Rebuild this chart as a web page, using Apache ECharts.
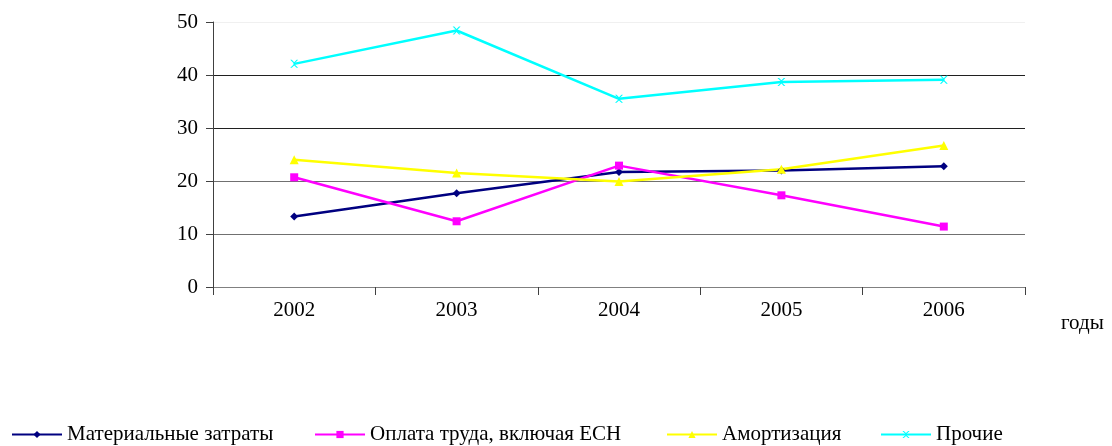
<!DOCTYPE html>
<html>
<head>
<meta charset="utf-8">
<script src="https://cdn.jsdelivr.net/npm/echarts@6/dist/echarts.min.js"></script>
<style>
  html, body { margin: 0; padding: 0; background: #fff; }
  #chart { width: 1112px; height: 446px; }
</style>
</head>
<body>
<div id="chart"></div>
<script>
const years = ['2002', '2003', '2004', '2005', '2006']
const material = [13.3, 17.7, 21.7, 22.0, 22.8]
const labour = [20.7, 12.4, 22.9, 17.3, 11.4]
const amort = [24.0, 21.5, 19.9, 22.2, 26.7]
const other = [42.1, 48.4, 35.5, 38.7, 39.1]

const names = ['Материальные затраты', 'Оплата труда, включая ЕСН', 'Амортизация', 'Прочие']
const colors = ['#000080', '#ff00ff', '#ffff00', '#00ffff']
const symbols = ['diamond', 'rect', 'triangle', 'path://M0,0 L2,0 L5,3 L8,0 L10,0 L6,4 L6,6 L10,10 L8,10 L5,7 L2,10 L0,10 L4,6 L4,4 Z']
const sizes = [8, 8, 9, 8]
const legendLeft = [11, 314, 666, 880]

const font = 'Liberation Serif, Times New Roman, serif'

const chart = echarts.init(document.getElementById('chart'))

const mkSeries = (i, data) => ({
  name: names[i],
  type: 'line',
  data: data,
  symbol: symbols[i],
  symbolSize: sizes[i],
  showSymbol: true,
  lineStyle: { width: 2.5, color: colors[i] },
  itemStyle: { color: colors[i] },
  animation: false
})

chart.setOption({
  backgroundColor: '#fff',
  animation: false,
  grid: { left: 213, right: 87, top: 22, bottom: 159 },
  legend: names.map((n, i) => ({
    data: [n],
    left: legendLeft[i],
    top: 424,
    padding: 0,
    itemWidth: 50,
    itemHeight: 9,
    itemGap: 7,
    textStyle: { fontFamily: font, fontSize: 21, color: '#000' }
  })),
  graphic: [{
    type: 'text',
    left: 1061,
    top: 313,
    style: { text: 'годы', font: '21px ' + font, fill: '#000' }
  }],
  xAxis: {
    type: 'category',
    data: years,
    boundaryGap: true,
    axisLine: { lineStyle: { color: '#808080', width: 1 } },
    axisTick: { show: true, length: 8, inside: false, lineStyle: { color: '#404040' } },
    axisLabel: { fontFamily: font, fontSize: 21, color: '#000', margin: 13 },
    splitLine: { show: false }
  },
  yAxis: {
    type: 'value',
    min: 0,
    max: 50,
    interval: 10,
    axisLine: { show: true, lineStyle: { color: '#404040', width: 1 } },
    axisTick: { show: true, length: 7, lineStyle: { color: '#404040' } },
    axisLabel: { fontFamily: font, fontSize: 21, color: '#000', margin: 15 },
    splitLine: {
      show: true,
      lineStyle: { color: ['#808080', '#707070', '#707070', '#202020', '#202020', '#f0f0f0'], width: 1 }
    }
  },
  series: [
    mkSeries(0, material),
    mkSeries(1, labour),
    mkSeries(2, amort),
    mkSeries(3, other)
  ]
})
</script>
</body>
</html>
